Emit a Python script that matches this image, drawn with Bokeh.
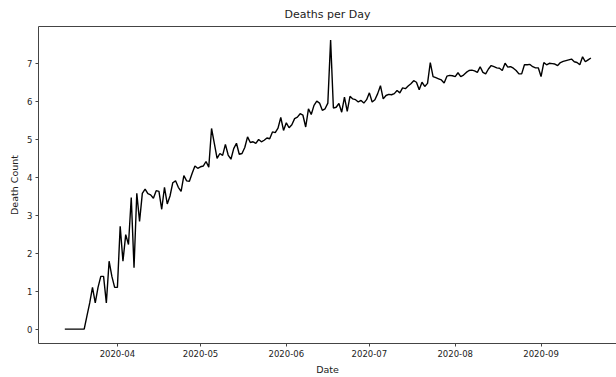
import pandas as pd
from datetime import datetime
from bokeh.plotting import figure
from bokeh.models import Range1d, FixedTicker, LinearAxis, ColumnDataSource
from bokeh.embed import file_html
from bokeh.resources import INLINE

start_date = "2020-03-13"
march = [0, 0, 0, 0, 0, 0, 0, 0, 0.35, 0.69, 1.10, 0.69, 1.10, 1.39, 1.39,
         0.69, 1.79, 1.39, 1.10]
april = [1.10, 2.71, 1.79, 2.49, 2.23, 3.47, 1.62, 3.58, 2.84, 3.58,
         3.69, 3.57, 3.54, 3.45, 3.65, 3.63, 3.16, 3.74, 3.30, 3.51,
         3.86, 3.91, 3.74, 3.63, 4.05, 3.91, 3.90, 4.11, 4.30, 4.24]
may = [4.28, 4.30, 4.42, 4.27, 5.29, 4.90, 4.50, 4.63, 4.58, 4.87,
       4.59, 4.48, 4.76, 4.90, 4.61, 4.63, 4.79, 5.07, 4.92, 4.94,
       4.90, 5.00, 4.94, 4.98, 5.04, 5.02, 5.20, 5.18, 5.30, 5.58, 5.24]
june = [5.44, 5.31, 5.39, 5.55, 5.59, 5.68, 5.64, 5.33, 5.81, 5.66,
        5.90, 6.01, 5.96, 5.77, 5.81, 5.96, 7.62, 5.83, 5.85, 5.95,
        5.72, 6.12, 5.74, 6.14, 6.07, 6.05, 5.99, 6.03, 5.96, 6.05]
july = [6.23, 5.99, 6.05, 6.21, 6.42, 6.07, 6.16, 6.19, 6.18, 6.21,
        6.29, 6.23, 6.36, 6.34, 6.41, 6.47, 6.55, 6.51, 6.31, 6.51,
        6.40, 6.48, 7.03, 6.66, 6.63, 6.60, 6.57, 6.49, 6.67, 6.69, 6.68]
august = [6.66, 6.76, 6.66, 6.70, 6.77, 6.82, 6.83, 6.81, 6.77, 6.92,
          6.77, 6.73, 6.86, 6.95, 6.92, 6.89, 6.88, 6.82, 7.01, 6.91,
          6.92, 6.88, 6.82, 6.73, 6.73, 6.97, 6.97, 6.98, 6.92, 6.89, 6.89]
september = [6.66, 7.03, 6.97, 7.01, 7.00, 6.99, 6.95, 7.03, 7.06, 7.08,
             7.10, 7.12, 7.05, 7.03, 6.97, 7.18, 7.05, 7.10, 7.15]

x_tick_dates = ["2020-04-01", "2020-05-01", "2020-06-01", "2020-07-01", "2020-08-01", "2020-09-01"]
x_tick_labels = ["2020-04", "2020-05", "2020-06", "2020-07", "2020-08", "2020-09"]
y_ticks = [0, 1, 2, 3, 4, 5, 6, 7]

deaths = march + april + may + june + july + august + september
dates = pd.date_range(start_date, periods=len(deaths), freq="D")
src = ColumnDataSource(dict(date=dates, deaths=deaths))

FONT = "DejaVu Sans"
TXT = "#222222"
AX = "#444444"

p = figure(width=616, height=377, x_axis_type="datetime", output_backend="svg",
           toolbar_location=None, title="Deaths per Day",
           x_range=Range1d(datetime(2020, 3, 3, 12), datetime(2020, 9, 28, 6)),
           y_range=Range1d(-0.38, 7.98),
           min_border_left=38, min_border_right=0, min_border_top=26, min_border_bottom=31)

p.line(x="date", y="deaths", source=src, line_color="black", line_width=1.4)

p.outline_line_color = None
p.xgrid.visible = False
p.ygrid.visible = False

p.title.align = "center"
p.title.text_font = FONT
p.title.text_font_size = "11px"
p.title.text_font_style = "normal"
p.title.text_color = TXT
p.title.standoff = 11

tick_ms = [pd.Timestamp(d).value / 1e6 for d in x_tick_dates]
p.xaxis.ticker = FixedTicker(ticks=tick_ms)
p.xaxis.major_label_overrides = {t: lab for t, lab in zip(tick_ms, x_tick_labels)}
p.yaxis.ticker = FixedTicker(ticks=y_ticks)

for ax in (p.xaxis[0], p.yaxis[0]):
    ax.axis_line_color = AX
    ax.major_tick_line_color = AX
    ax.minor_tick_line_color = None
    ax.major_tick_in = 0
    ax.major_tick_out = 3
    ax.major_label_text_font = FONT
    ax.major_label_text_font_size = "8.5px"
    ax.major_label_text_color = TXT
    ax.major_label_standoff = 3
    ax.axis_label_text_font = FONT
    ax.axis_label_text_font_size = "9.5px"
    ax.axis_label_text_font_style = "normal"
    ax.axis_label_text_color = TXT
    ax.axis_label_standoff = 4

p.xaxis.axis_label = "Date"
p.yaxis.axis_label = "Death Count"

top = LinearAxis(axis_line_color=AX, major_tick_line_color=None, minor_tick_line_color=None,
                 major_label_text_font_size="0px", major_label_standoff=0)
top.ticker = FixedTicker(ticks=[])
p.add_layout(top, "above")

open("out.html", "w").write(file_html(p, INLINE))
